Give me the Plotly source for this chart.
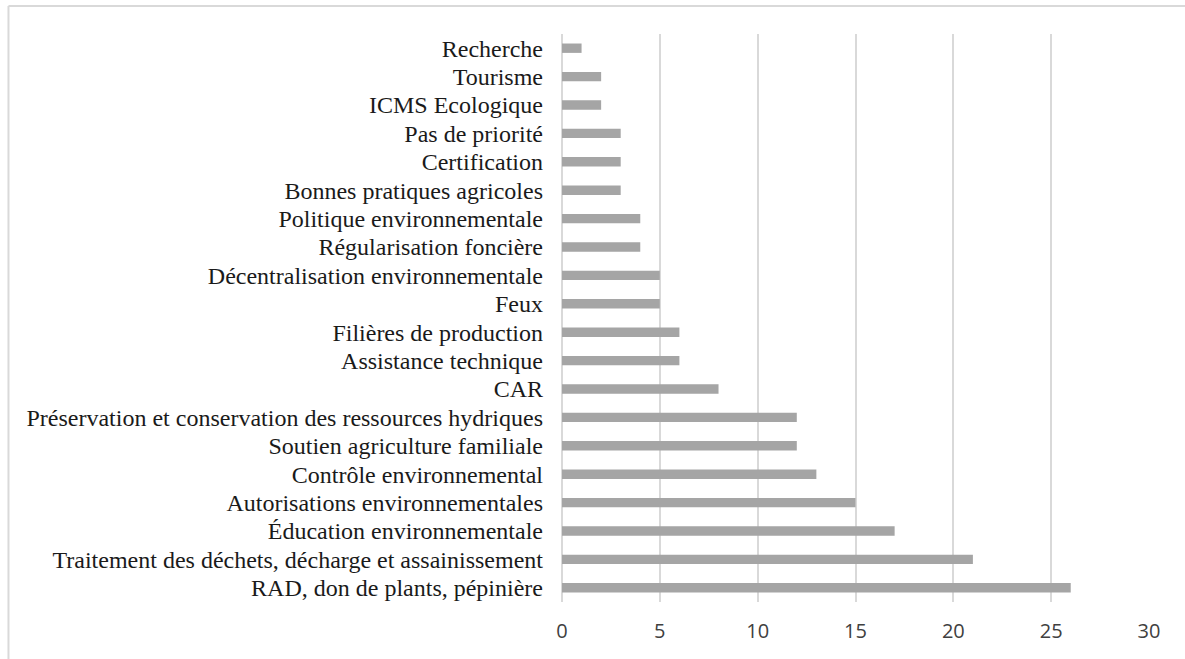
import plotly.graph_objects as go

# Categories listed bottom-to-top, as they stack on the category axis
categories = [
    "RAD, don de plants, pépinière",
    "Traitement des déchets, décharge et assainissement",
    "Éducation environnementale",
    "Autorisations environnementales",
    "Contrôle environnemental",
    "Soutien agriculture familiale",
    "Préservation et conservation des ressources hydriques",
    "CAR",
    "Assistance technique",
    "Filières de production",
    "Feux",
    "Décentralisation environnementale",
    "Régularisation foncière",
    "Politique environnementale",
    "Bonnes pratiques agricoles",
    "Certification",
    "Pas de priorité",
    "ICMS Ecologique",
    "Tourisme",
    "Recherche",
]
values = [26, 21, 17, 15, 13, 12, 12, 8, 6, 6, 5, 5, 4, 4, 3, 3, 3, 2, 2, 1]
x_ticks = [0, 5, 10, 15, 20, 25, 30]

W, H = 1185, 659
ML, MR, MT, MB = 562, 35.5, 34, 57
plot_w = W - ML - MR
plot_h = H - MT - MB


def px_to_paper_x(px):
    return (px - ML) / plot_w


def px_to_paper_y(py):
    return (H - MB - py) / plot_h


fig = go.Figure(
    go.Bar(
        x=values,
        y=categories,
        orientation="h",
        marker=dict(color="#A5A5A5", line=dict(width=0)),
        hoverinfo="x+y",
    )
)

grid = "#D9D9D9"
border_left, border_top = 8, 6

fig.update_layout(
    width=W,
    height=H,
    margin=dict(l=ML, r=MR, t=MT, b=MB, pad=0),
    paper_bgcolor="white",
    plot_bgcolor="white",
    bargap=0.67,
    showlegend=False,
    xaxis=dict(
        range=[0, 30],
        tickmode="array",
        tickvals=x_ticks,
        ticktext=[str(v) for v in x_ticks],
        showgrid=True,
        gridcolor=grid,
        gridwidth=1.5,
        zeroline=True,
        zerolinecolor=grid,
        zerolinewidth=1.5,
        showline=False,
        ticks="",
        ticklabelstandoff=15,
        tickfont=dict(family="Open Sans", size=20, color="#404040"),
        fixedrange=True,
    ),
    yaxis=dict(
        type="category",
        categoryorder="array",
        categoryarray=categories,
        tickmode="array",
        tickvals=categories,
        ticktext=categories,
        showgrid=False,
        showline=False,
        zeroline=False,
        ticks="",
        ticklabelstandoff=18,
        tickfont=dict(family="Liberation Serif", size=24, color="#1a1a1a"),
        fixedrange=True,
    ),
    shapes=[
        dict(
            type="line", xref="paper", yref="paper",
            x0=px_to_paper_x(border_left), x1=px_to_paper_x(W + 5),
            y0=px_to_paper_y(border_top), y1=px_to_paper_y(border_top),
            line=dict(color=grid, width=2),
        ),
        dict(
            type="line", xref="paper", yref="paper",
            x0=px_to_paper_x(border_left), x1=px_to_paper_x(border_left),
            y0=px_to_paper_y(border_top), y1=px_to_paper_y(H + 5),
            line=dict(color=grid, width=2),
        ),
    ],
)

fig.write_html("out.html", config={"displayModeBar": False})
